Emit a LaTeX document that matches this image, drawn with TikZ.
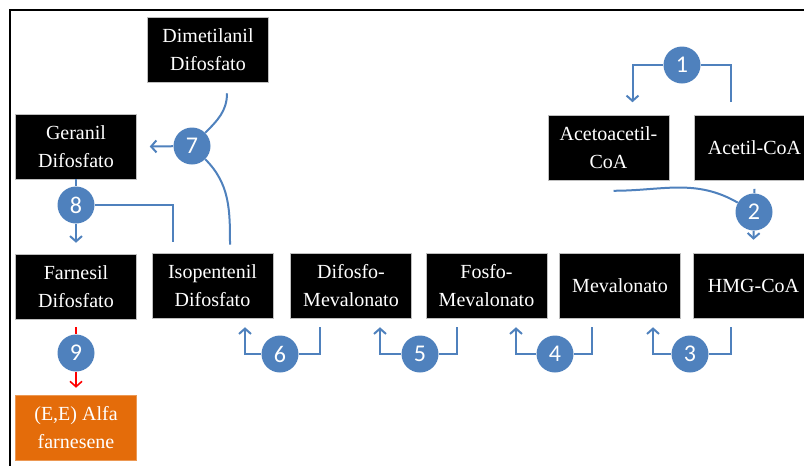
\documentclass[tikz,border=0pt]{standalone}
\usepackage{fontspec}
\setmainfont{Liberation Serif}
\newfontfamily\boxfont{Liberation Serif}
\newfontfamily\numfont{Carlito}
\usepackage{xcolor}
\usepackage{tikz}
\usetikzlibrary{positioning,calc,arrows.meta}

\definecolor{stepblue}{HTML}{4F81BD}
\definecolor{alfaorange}{HTML}{E46C0A}

\begin{document}
\begin{tikzpicture}[
	x=0.75pt, y=-0.75pt,
	% caixas dos compostos
	compbox/.style={fill=black, draw=gray!50, thin, text=white, align=center,
		minimum width=90.75pt, minimum height=48.75pt, inner sep=1pt,
		font=\boxfont\fontsize{15}{21}\selectfont},
	stepnum/.style={circle, fill=stepblue, text=white, minimum size=27.75pt,
		inner sep=0pt, font=\numfont\fontsize{18}{18}\selectfont},
	link/.style={stepblue, line width=1.5pt},
	flow/.style={link, -{Straight Barb[length=4pt,width=9pt]}},
	redlink/.style={red, line width=1.2pt},
	redflow/.style={redlink, -{Straight Barb[length=4pt,width=9pt]}}
	]
	\clip (0,0) rectangle (804,465);
	
	% --- MOLDURA ---
	\draw[black, line width=1.5pt] (10,470) -- (10,10) -- (810,10);
	
	% --- COMPOSTOS ---
	\node[compbox] (dim) at (208,49.5) {Dimetilanil\\Difosfato};
	\node[compbox] (ger) at (76,146.5) {Geranil\\Difosfato};
	\node[compbox] (far) at (76,286.5) {Farnesil\\Difosfato};
	\node[compbox] (iso) at (212.5,285.5) {Isopentenil\\Difosfato};
	\node[compbox] (dme) at (351,285.5) {Difosfo-\\Mevalonato};
	\node[compbox] (fme) at (486.5,285.5) {Fosfo-\\Mevalonato};
	\node[compbox] (mev) at (620,285.5) {Mevalonato};
	\node[compbox] (hmg) at (753.5,285.5) {HMG-CoA};
	\node[compbox] (aceto) at (608.5,148) {Acetoacetil-\\CoA};
	\node[compbox] (acetil) at (754.5,148) {Acetil-CoA};
	\node[compbox, fill=alfaorange, draw=alfaorange!70] (alfa) at (76,427.5) {(E,E) Alfa\\farnesene};
	
	% --- ETAPAS ---
	\node[stepnum] (c1) at (682,65) {1};
	\node[stepnum] (c2) at (754,212) {2};
	\node[stepnum] (c3) at (690,354) {3};
	\node[stepnum] (c4) at (555,354) {4};
	\node[stepnum] (c5) at (420,354) {5};
	\node[stepnum] (c6) at (280,354) {6};
	\node[stepnum] (c7) at (192,146) {7};
	\node[stepnum] (c8) at (76,205) {8};
	\node[stepnum] (c9) at (76,353) {9};
	
	% --- SETAS ---
	% 1: Acetil-CoA -> Acetoacetil-CoA
	\draw[link] ($(acetil.north)+(-24,-13)$) |- (c1);
	\draw[flow] (c1) -| ($(aceto.north)+(24,-13)$);
	% 2: Acetoacetil-CoA + Acetil-CoA -> HMG-CoA
	\draw[link] ($(acetil.south)+(0,8)$) -- (c2);
	\draw[link] ($(aceto.south)+(5,10)$) to[out=0,in=150] (c2);
	\draw[flow] (c2) -- ($(hmg.north)+(0,-13)$);
	% 3: HMG-CoA -> Mevalonato
	\draw[link] ($(hmg.south)+(-23,9)$) |- (c3);
	\draw[flow] (c3) -| ($(mev.south)+(33,9)$);
	% 4: Mevalonato -> Fosfo-Mevalonato
	\draw[link] ($(mev.south)+(-28,9)$) |- (c4);
	\draw[flow] (c4) -| ($(fme.south)+(29.5,9)$);
	% 5: Fosfo-Mevalonato -> Difosfo-Mevalonato
	\draw[link] ($(fme.south)+(-29.5,9)$) |- (c5);
	\draw[flow] (c5) -| ($(dme.south)+(29,9)$);
	% 6: Difosfo-Mevalonato -> Isopentenil Difosfato
	\draw[link] ($(dme.south)+(-31,9)$) |- (c6);
	\draw[flow] (c6) -| ($(iso.south)+(32.5,9)$);
	% 7: Dimetilanil + Isopentenil -> Geranil
	\draw[link] ($(dim.south)+(19,11)$) to[out=-90,in=45] (c7);
	\draw[link] (c7) to[out=-45,in=90] ($(iso.north)+(17.5,-8)$);
	\draw[flow] (c7) -- ($(ger.east)+(13,0)$);
	% 8: Geranil + Isopentenil -> Farnesil
	\draw[link] (ger.south) -- (c8);
	\draw[link] (c8) -| ($(iso.north)+(-39.5,-11)$);
	\draw[flow] (c8) -- ($(far.north)+(0,-11)$);
	% 9: Farnesil -> (E,E) Alfa farnesene
	\draw[redlink] ($(far.south)+(0,8)$) -- (c9);
	\draw[redflow] (c9) -- ($(alfa.north)+(0,-7)$);
	
\end{tikzpicture}
\end{document}
